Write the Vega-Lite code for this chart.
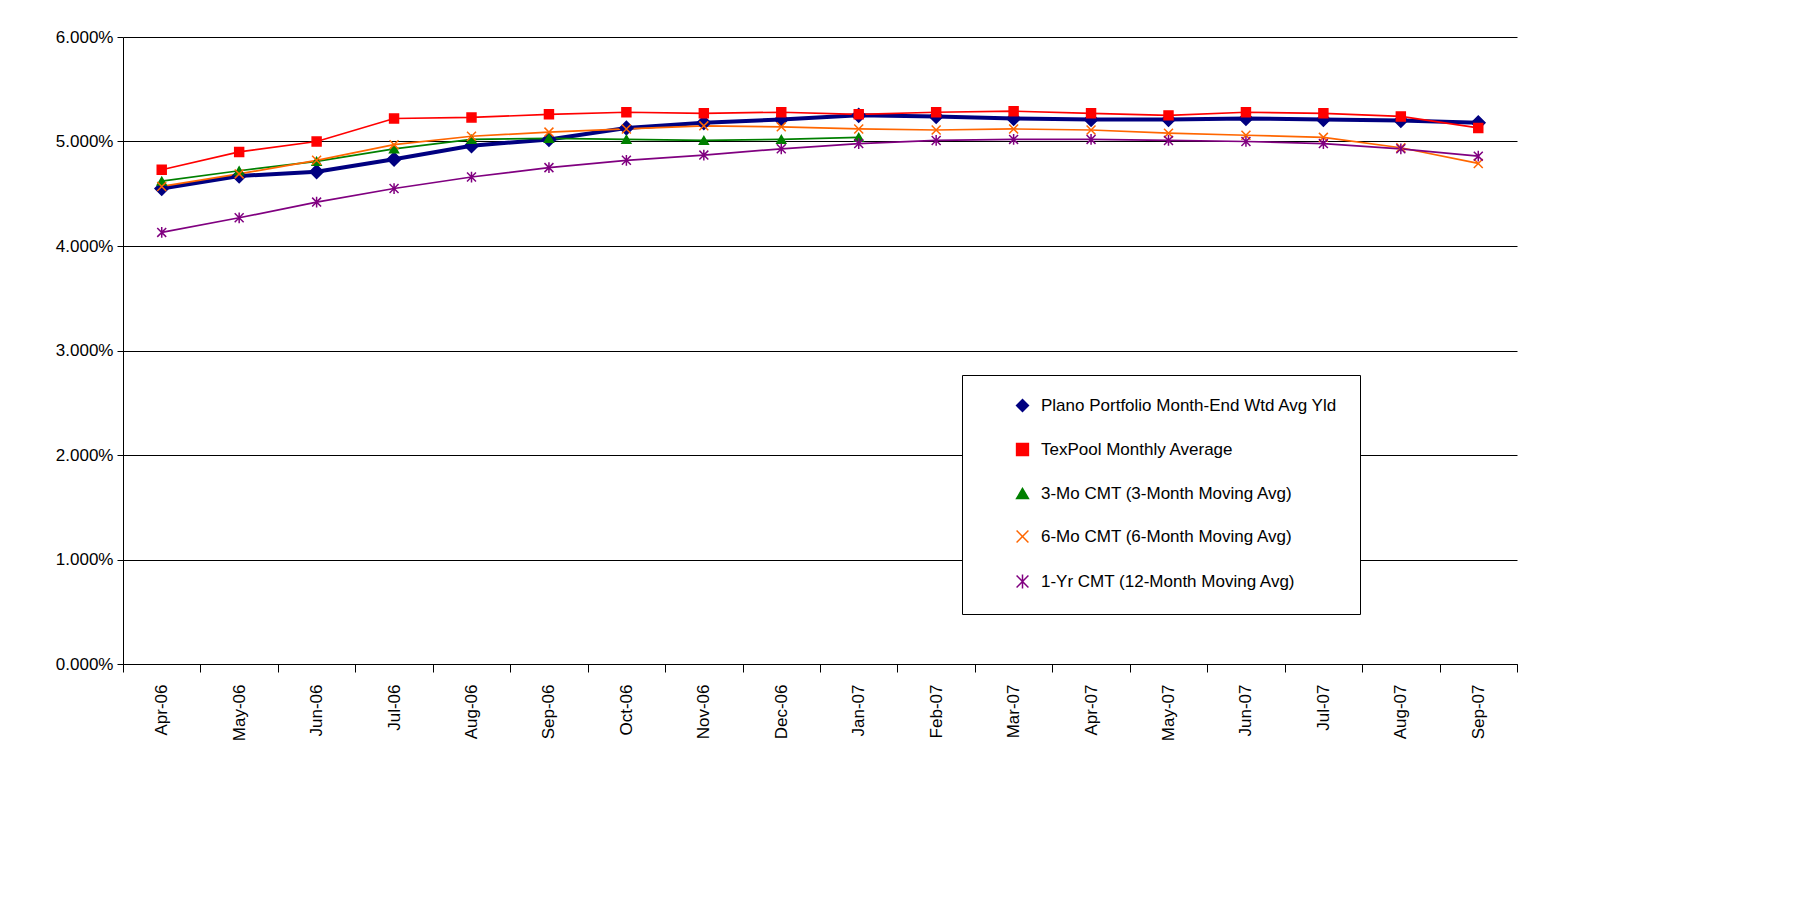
{
  "$schema": "https://vega.github.io/schema/vega-lite/v6.json",
  "autosize": "none",
  "width": 1394,
  "height": 627,
  "padding": {"left": 123, "top": 37, "right": 303, "bottom": 245},
  "background": "white",
  "config": {
    "font": "Liberation Sans",
    "view": {"stroke": null},
    "axis": {"labelFontSize": 17, "labelColor": "black", "domainColor": "black", "tickColor": "black", "title": null}
  },
  "data": {"values": [
    {"m":"Apr-06","s":"Plano Portfolio Month-End Wtd Avg Yld","v":0.0455},{"m":"May-06","s":"Plano Portfolio Month-End Wtd Avg Yld","v":0.0467},{"m":"Jun-06","s":"Plano Portfolio Month-End Wtd Avg Yld","v":0.0471},{"m":"Jul-06","s":"Plano Portfolio Month-End Wtd Avg Yld","v":0.0483},{"m":"Aug-06","s":"Plano Portfolio Month-End Wtd Avg Yld","v":0.0496},{"m":"Sep-06","s":"Plano Portfolio Month-End Wtd Avg Yld","v":0.0502},{"m":"Oct-06","s":"Plano Portfolio Month-End Wtd Avg Yld","v":0.0513},{"m":"Nov-06","s":"Plano Portfolio Month-End Wtd Avg Yld","v":0.0518},{"m":"Dec-06","s":"Plano Portfolio Month-End Wtd Avg Yld","v":0.0521},{"m":"Jan-07","s":"Plano Portfolio Month-End Wtd Avg Yld","v":0.0525},{"m":"Feb-07","s":"Plano Portfolio Month-End Wtd Avg Yld","v":0.0524},{"m":"Mar-07","s":"Plano Portfolio Month-End Wtd Avg Yld","v":0.0522},{"m":"Apr-07","s":"Plano Portfolio Month-End Wtd Avg Yld","v":0.0521},{"m":"May-07","s":"Plano Portfolio Month-End Wtd Avg Yld","v":0.0521},{"m":"Jun-07","s":"Plano Portfolio Month-End Wtd Avg Yld","v":0.0522},{"m":"Jul-07","s":"Plano Portfolio Month-End Wtd Avg Yld","v":0.0521},{"m":"Aug-07","s":"Plano Portfolio Month-End Wtd Avg Yld","v":0.0520},{"m":"Sep-07","s":"Plano Portfolio Month-End Wtd Avg Yld","v":0.0518},
    {"m":"Apr-06","s":"TexPool Monthly Average","v":0.0473},{"m":"May-06","s":"TexPool Monthly Average","v":0.0490},{"m":"Jun-06","s":"TexPool Monthly Average","v":0.0500},{"m":"Jul-06","s":"TexPool Monthly Average","v":0.0522},{"m":"Aug-06","s":"TexPool Monthly Average","v":0.0523},{"m":"Sep-06","s":"TexPool Monthly Average","v":0.0526},{"m":"Oct-06","s":"TexPool Monthly Average","v":0.0528},{"m":"Nov-06","s":"TexPool Monthly Average","v":0.0527},{"m":"Dec-06","s":"TexPool Monthly Average","v":0.0528},{"m":"Jan-07","s":"TexPool Monthly Average","v":0.0526},{"m":"Feb-07","s":"TexPool Monthly Average","v":0.0528},{"m":"Mar-07","s":"TexPool Monthly Average","v":0.0529},{"m":"Apr-07","s":"TexPool Monthly Average","v":0.0527},{"m":"May-07","s":"TexPool Monthly Average","v":0.0525},{"m":"Jun-07","s":"TexPool Monthly Average","v":0.0528},{"m":"Jul-07","s":"TexPool Monthly Average","v":0.0527},{"m":"Aug-07","s":"TexPool Monthly Average","v":0.0524},{"m":"Sep-07","s":"TexPool Monthly Average","v":0.0513},
    {"m":"Apr-06","s":"3-Mo CMT (3-Month Moving Avg)","v":0.0462},{"m":"May-06","s":"3-Mo CMT (3-Month Moving Avg)","v":0.0472},{"m":"Jun-06","s":"3-Mo CMT (3-Month Moving Avg)","v":0.0481},{"m":"Jul-06","s":"3-Mo CMT (3-Month Moving Avg)","v":0.0493},{"m":"Aug-06","s":"3-Mo CMT (3-Month Moving Avg)","v":0.0502},{"m":"Sep-06","s":"3-Mo CMT (3-Month Moving Avg)","v":0.0503},{"m":"Oct-06","s":"3-Mo CMT (3-Month Moving Avg)","v":0.0502},{"m":"Nov-06","s":"3-Mo CMT (3-Month Moving Avg)","v":0.0501},{"m":"Dec-06","s":"3-Mo CMT (3-Month Moving Avg)","v":0.0502},{"m":"Jan-07","s":"3-Mo CMT (3-Month Moving Avg)","v":0.0504},
    {"m":"Apr-06","s":"6-Mo CMT (6-Month Moving Avg)","v":0.0457},{"m":"May-06","s":"6-Mo CMT (6-Month Moving Avg)","v":0.0469},{"m":"Jun-06","s":"6-Mo CMT (6-Month Moving Avg)","v":0.0482},{"m":"Jul-06","s":"6-Mo CMT (6-Month Moving Avg)","v":0.0497},{"m":"Aug-06","s":"6-Mo CMT (6-Month Moving Avg)","v":0.0505},{"m":"Sep-06","s":"6-Mo CMT (6-Month Moving Avg)","v":0.0509},{"m":"Oct-06","s":"6-Mo CMT (6-Month Moving Avg)","v":0.0512},{"m":"Nov-06","s":"6-Mo CMT (6-Month Moving Avg)","v":0.0515},{"m":"Dec-06","s":"6-Mo CMT (6-Month Moving Avg)","v":0.0514},{"m":"Jan-07","s":"6-Mo CMT (6-Month Moving Avg)","v":0.0512},{"m":"Feb-07","s":"6-Mo CMT (6-Month Moving Avg)","v":0.0511},{"m":"Mar-07","s":"6-Mo CMT (6-Month Moving Avg)","v":0.0512},{"m":"Apr-07","s":"6-Mo CMT (6-Month Moving Avg)","v":0.0511},{"m":"May-07","s":"6-Mo CMT (6-Month Moving Avg)","v":0.0508},{"m":"Jun-07","s":"6-Mo CMT (6-Month Moving Avg)","v":0.0506},{"m":"Jul-07","s":"6-Mo CMT (6-Month Moving Avg)","v":0.0504},{"m":"Aug-07","s":"6-Mo CMT (6-Month Moving Avg)","v":0.0494},{"m":"Sep-07","s":"6-Mo CMT (6-Month Moving Avg)","v":0.0479},
    {"m":"Apr-06","s":"1-Yr CMT (12-Month Moving Avg)","v":0.0413},{"m":"May-06","s":"1-Yr CMT (12-Month Moving Avg)","v":0.0427},{"m":"Jun-06","s":"1-Yr CMT (12-Month Moving Avg)","v":0.0442},{"m":"Jul-06","s":"1-Yr CMT (12-Month Moving Avg)","v":0.0455},{"m":"Aug-06","s":"1-Yr CMT (12-Month Moving Avg)","v":0.0466},{"m":"Sep-06","s":"1-Yr CMT (12-Month Moving Avg)","v":0.0475},{"m":"Oct-06","s":"1-Yr CMT (12-Month Moving Avg)","v":0.0482},{"m":"Nov-06","s":"1-Yr CMT (12-Month Moving Avg)","v":0.0487},{"m":"Dec-06","s":"1-Yr CMT (12-Month Moving Avg)","v":0.0493},{"m":"Jan-07","s":"1-Yr CMT (12-Month Moving Avg)","v":0.0498},{"m":"Feb-07","s":"1-Yr CMT (12-Month Moving Avg)","v":0.0501},{"m":"Mar-07","s":"1-Yr CMT (12-Month Moving Avg)","v":0.0502},{"m":"Apr-07","s":"1-Yr CMT (12-Month Moving Avg)","v":0.0502},{"m":"May-07","s":"1-Yr CMT (12-Month Moving Avg)","v":0.0501},{"m":"Jun-07","s":"1-Yr CMT (12-Month Moving Avg)","v":0.0500},{"m":"Jul-07","s":"1-Yr CMT (12-Month Moving Avg)","v":0.0498},{"m":"Aug-07","s":"1-Yr CMT (12-Month Moving Avg)","v":0.0493},{"m":"Sep-07","s":"1-Yr CMT (12-Month Moving Avg)","v":0.0486}
  ]},
  "encoding": {
    "x": {"field": "m", "type": "ordinal", "sort": null, "axis": {"labelAngle": -90, "grid": false, "tickBand": "extent", "labelPadding": 12, "tickSize": 8}},
    "y": {"field": "v", "type": "quantitative", "scale": {"domain": [0, 0.06]}, "axis": {"format": ".3%", "tickCount": 6, "gridColor": "black", "gridWidth": 1, "tickSize": 6, "labelPadding": 4}},
    "color": {"field": "s", "type": "nominal", "sort": null,
      "scale": {"domain": ["Plano Portfolio Month-End Wtd Avg Yld","TexPool Monthly Average","3-Mo CMT (3-Month Moving Avg)","6-Mo CMT (6-Month Moving Avg)","1-Yr CMT (12-Month Moving Avg)"],
        "range": ["#000080","#ff0000","#008000","#ff6600","#800080"]},
      "legend": {
        "title": null, "orient": "none", "legendX": 839, "legendY": 338,
        "labelFontSize": 17, "labelColor": "black", "symbolSize": 140, "rowPadding": 25,
        "padding": 22, "strokeColor": "black", "fillColor": "white", "labelOffset": 10, "labelLimit": 400,
        "symbolOffset": 30,
        "encode": {"symbols": {"update": {"stroke": {"scale": "color", "field": "value"}, "strokeWidth": {"value": 1.5}}}}
      }}
  },
  "layer": [
    {"mark": {"type": "line"},
     "encoding": {
       "strokeWidth": {"condition": {"test": "datum.s === 'Plano Portfolio Month-End Wtd Avg Yld'", "value": 4}, "value": 1.7}
     }},
    {"mark": {"type": "point", "filled": true, "opacity": 1, "strokeWidth": 1.5},
     "encoding": {
       "stroke": {"field": "s", "type": "nominal", "legend": null, "scale": {"domain": ["Plano Portfolio Month-End Wtd Avg Yld","TexPool Monthly Average","3-Mo CMT (3-Month Moving Avg)","6-Mo CMT (6-Month Moving Avg)","1-Yr CMT (12-Month Moving Avg)"], "range": ["#000080","#ff0000","#008000","#ff6600","#800080"]}},
       "shape": {"field": "s", "type": "nominal", "scale": {"domain": ["Plano Portfolio Month-End Wtd Avg Yld","TexPool Monthly Average","3-Mo CMT (3-Month Moving Avg)","6-Mo CMT (6-Month Moving Avg)","1-Yr CMT (12-Month Moving Avg)"],
         "range": ["diamond", "square", "triangle-up", "M-1,-1L1,1M-1,1L1,-1", "M-1,-1L1,1M-1,1L1,-1M0,-1.2L0,1.2"]}},
       "size": {"condition": {"test": "datum.s === 'Plano Portfolio Month-End Wtd Avg Yld'", "value": 180}, "value": 80}
     }}
  ]
}
